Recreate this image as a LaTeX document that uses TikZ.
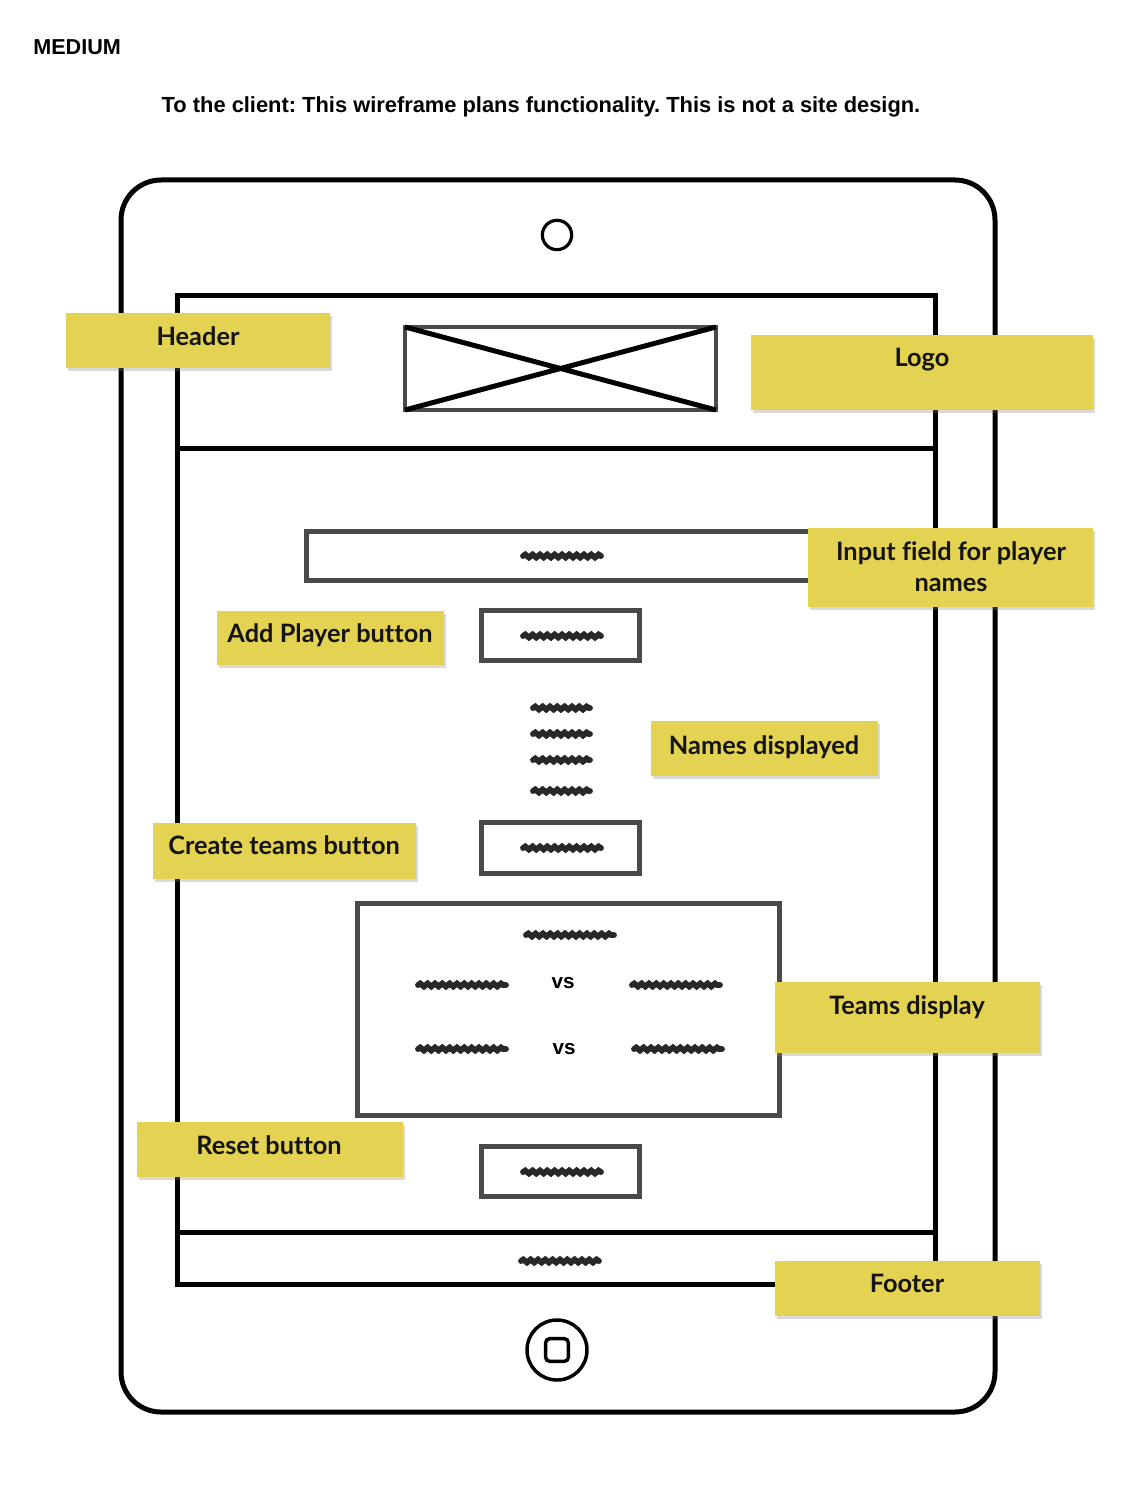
\documentclass[tikz,border=0pt]{standalone}
\usepackage{fontspec}
\setmainfont{Liberation Sans}
\newfontfamily\notefont[Ligatures=NoCommon]{Lato}
\usetikzlibrary{decorations.pathmorphing,shadows,fit}

\definecolor{wfgray}{RGB}{74,74,74}
\definecolor{scrib}{RGB}{40,40,40}
\definecolor{notey}{RGB}{228,210,82}

\tikzset{
  frame/.style={draw=black, line width=3.75pt},
  wfbox/.style={draw=wfgray, line width=3.75pt},
  scribble/.style={draw=scrib, line width=4.4pt, line cap=round, decorate,
    decoration={snake, segment length=5.5pt, amplitude=1.1pt}},
  note/.style={fill=notey, draw=none, inner sep=0pt,
    drop shadow={shadow xshift=1.5pt, shadow yshift=-2.2pt, opacity=0.3}},
  notetext/.style={font=\notefont\bfseries\fontsize{19}{23}\selectfont,
    text=black!92, align=center, anchor=base, inner sep=0pt},
  vstext/.style={font=\bfseries\fontsize{15.5}{18}\selectfont, inner sep=0pt},
}

\begin{document}
\frenchspacing
\begin{tikzpicture}[x=0.75pt, y=-0.75pt]
\useasboundingbox (0,0) rectangle (1134,1494);

% headings
\node[font=\bfseries\fontsize{16.2}{19}\selectfont, anchor=base west, inner sep=0pt] (level) at (33,55) {MEDIUM};
\node[font=\bfseries\fontsize{16.4}{19}\selectfont, anchor=base, inner sep=0pt] (disclaimer) at (541,113)
  {To the client: This wireframe plans functionality. This is not a site design.};

% tablet body
\draw[frame, rounded corners=30pt] (121,180) rectangle (995,1412);
\node[circle, draw, line width=2.4pt, minimum size=22pt, inner sep=0pt] (camera) at (557,235) {};
\node[circle, draw, line width=2.6pt, minimum size=45pt, inner sep=0pt] (home) at (557,1350) {};
\node[draw, line width=2.6pt, rounded corners=3pt, minimum size=17pt, inner sep=0pt] (homekey) at (557,1350) {};

% screen with header and footer bands
\draw[frame] (177,296) rectangle (935,1284);
\draw[frame] (177,448) -- (935,448);
\draw[frame] (177,1232) -- (935,1232);

% logo placeholder
\draw[draw=wfgray, line width=3pt] (405,327) rectangle (716,410);
\draw[line width=3.75pt] (405,327) -- (716,410) (405,410) -- (716,327);

% content boxes
\draw[wfbox] (306,531) rectangle (870,580);
\draw[wfbox] (481,610) rectangle (639,660);
\draw[wfbox] (481,822) rectangle (639,873);
\draw[wfbox] (357,903) rectangle (779,1115);
\draw[wfbox] (481,1146) rectangle (639,1196);

% placeholder text
\draw[scribble] (523,556) -- (601,556);
\draw[scribble] (523,636) -- (601,636);
\draw[scribble] (533,708) -- (590,708);
\draw[scribble] (533,734) -- (590,734);
\draw[scribble] (533,760) -- (590,760);
\draw[scribble] (533,791) -- (590,791);
\draw[scribble] (523,848) -- (601,848);
\draw[scribble] (526,935) -- (614,935);
\draw[scribble] (418,985) -- (506,985);
\draw[scribble] (632,985) -- (720,985);
\draw[scribble] (418,1049) -- (506,1049);
\draw[scribble] (634,1049) -- (722,1049);
\draw[scribble] (523,1172) -- (601,1172);
\draw[scribble] (521,1261) -- (599,1261);
\node[vstext] (vs1) at (563,983) {vs};
\node[vstext] (vs2) at (564,1049) {vs};

% annotation notes
\node[note, fit={(66,313) (330,368)}] (nHeader) {};
\node[notetext] (tHeader) at (198,345.5) {Header};
\node[note, fit={(751,335) (1093,410)}] (nLogo) {};
\node[notetext] (tLogo) at (922,366.5) {Logo};
\node[note, fit={(808,528) (1093,607)}] (nInput) {};
\node[notetext] (tInput) at (951,591.5) {Input field for player\\names};
\node[note, fit={(217,611) (444,665)}] (nAdd) {};
\node[notetext] (tAdd) at (330,642.5) {Add Player button};
\node[note, fit={(651,721) (878,776)}] (nNames) {};
\node[notetext] (tNames) at (764,754) {Names displayed};
\node[note, fit={(153,823) (416,879)}] (nCreate) {};
\node[notetext] (tCreate) at (284,854) {Create teams button};
\node[note, fit={(775,982) (1040,1053)}] (nTeams) {};
\node[notetext] (tTeams) at (907,1014) {Teams display};
\node[note, fit={(137,1122) (403,1177)}] (nReset) {};
\node[notetext] (tReset) at (269,1154) {Reset button};
\node[note, fit={(775,1261) (1040,1316)}] (nFooter) {};
\node[notetext] (tFooter) at (907,1292.5) {Footer};
\end{tikzpicture}
\end{document}
